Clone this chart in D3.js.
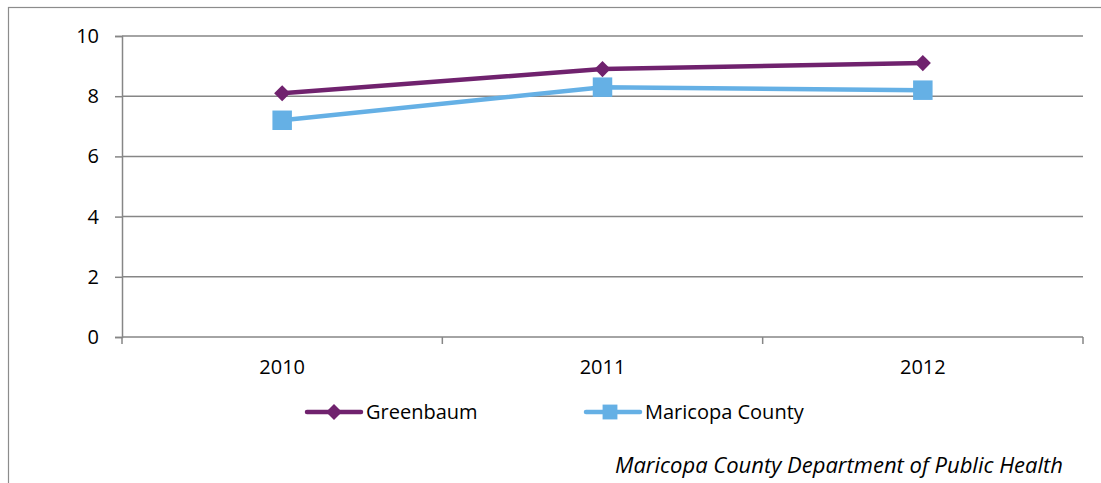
<!DOCTYPE html>
<html>
<head>
<meta charset="utf-8">
<script src="https://cdn.jsdelivr.net/npm/d3@7"></script>
<style>
  body { margin: 0; background: #fff; }
  .chart text { font-family: "Open Sans", "DejaVu Sans", sans-serif; fill: #000; }
</style>
</head>
<body>
<div class="chart"></div>
<script>
var years = ["2010", "2011", "2012"];
var greenbaum = [8.1, 8.9, 9.1];
var maricopa = [7.2, 8.3, 8.2];
var yTicks = [0, 2, 4, 6, 8, 10];
var seriesNames = ["Greenbaum", "Maricopa County"];
var seriesColors = ["#70226e", "#65b0e5"];

var svgWidth = 1101;
var svgHeight = 483;

var margin = { top: 36, right: 18, bottom: 146, left: 122 };
var width = svgWidth - margin.left - margin.right;
var height = svgHeight - margin.top - margin.bottom;

var svg = d3.select(".chart")
  .append("svg")
  .attr("width", svgWidth)
  .attr("height", svgHeight);

// outer chart border (runs off the right and bottom)
svg.append("rect")
  .attr("x", 8.5).attr("y", 7.5)
  .attr("width", 1200).attr("height", 600)
  .attr("fill", "none")
  .attr("stroke", "#8c8c8c")
  .attr("stroke-width", 1.2);

var chart = svg.append("g")
  .attr("transform", "translate(" + margin.left + "," + margin.top + ")");

var xScale = d3.scaleBand().domain(years).range([0, width]);
var yScale = d3.scaleLinear().domain([0, 10]).range([height, 0]);

// gridlines + y axis
var leftAxis = d3.axisLeft(yScale).tickValues(yTicks).tickSize(7).tickPadding(16);
var yAxis = chart.append("g").call(leftAxis);
yAxis.select(".domain").attr("stroke", "#868686").attr("stroke-width", 1.5);
yAxis.selectAll(".tick line").attr("stroke", "#868686").attr("stroke-width", 1.5);
yAxis.selectAll(".tick text").style("font-size", "20px");

chart.append("g").selectAll("line")
  .data(yTicks.filter(function(d) { return d > 0; }))
  .enter().append("line")
    .attr("x1", 0).attr("x2", width)
    .attr("y1", function(d) { return yScale(d); })
    .attr("y2", function(d) { return yScale(d); })
    .attr("stroke", "#868686")
    .attr("stroke-width", 1.5);

// x axis with ticks at band boundaries
var xAxisG = chart.append("g").attr("transform", "translate(0," + height + ")");
xAxisG.append("line")
  .attr("x1", 0).attr("x2", width)
  .attr("stroke", "#868686").attr("stroke-width", 1.5);
xAxisG.selectAll(".bound")
  .data(years.concat(["end"]))
  .enter().append("line")
    .attr("class", "bound")
    .attr("x1", function(d, i) { return i < years.length ? xScale(d) : width; })
    .attr("x2", function(d, i) { return i < years.length ? xScale(d) : width; })
    .attr("y1", 0).attr("y2", 7)
    .attr("stroke", "#868686").attr("stroke-width", 1.5);
xAxisG.selectAll(".lbl")
  .data(years)
  .enter().append("text")
    .attr("class", "lbl")
    .attr("x", function(d) { return xScale(d) + xScale.bandwidth() / 2; })
    .attr("y", 37)
    .attr("text-anchor", "middle")
    .style("font-size", "20px")
    .text(function(d) { return d; });

var cx = function(d, i) { return xScale(years[i]) + xScale.bandwidth() / 2; };
var line = d3.line()
  .x(cx)
  .y(function(d) { return yScale(d); });

var diamond = d3.symbol().type(d3.symbolDiamond2).size(165);
var square = d3.symbol().type(d3.symbolSquare).size(380);

[greenbaum, maricopa].forEach(function(values, s) {
  chart.append("path")
    .datum(values)
    .attr("d", line)
    .attr("fill", "none")
    .attr("stroke", seriesColors[s])
    .attr("stroke-width", 4.5);
  chart.selectAll(".m" + s)
    .data(values)
    .enter().append("path")
      .attr("class", "m" + s)
      .attr("transform", function(d, i) { return "translate(" + cx(d, i) + "," + yScale(d) + ")"; })
      .attr("d", s === 0 ? diamond : square)
      .attr("fill", seriesColors[s]);
});

// legend
var legendX = [307, 586];
var legend = svg.append("g");
seriesNames.forEach(function(name, s) {
  var g = legend.append("g").attr("transform", "translate(" + legendX[s] + ",412)");
  g.append("line")
    .attr("x1", 0).attr("x2", 54)
    .attr("stroke", seriesColors[s])
    .attr("stroke-width", 4.5)
    .attr("stroke-linecap", "round");
  g.append("path")
    .attr("transform", "translate(" + (s === 0 ? 27 : 24) + ",0)")
    .attr("d", s === 0 ? diamond : d3.symbol().type(d3.symbolSquare).size(220))
    .attr("fill", seriesColors[s]);
  g.append("text")
    .attr("x", 59)
    .attr("dy", "0.35em")
    .style("font-size", "20px")
    .text(name);
});

svg.append("text")
  .attr("x", 1063)
  .attr("y", 473)
  .attr("text-anchor", "end")
  .style("font-size", "22px")
  .style("font-style", "italic")
  .text("Maricopa County Department of Public Health");
</script>
</body>
</html>
